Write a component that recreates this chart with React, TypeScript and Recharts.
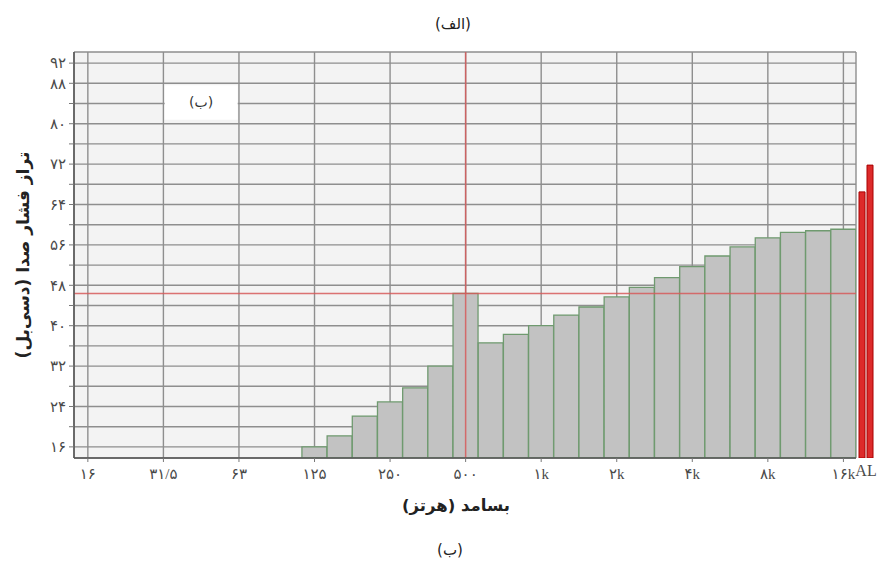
import React from "react";
import {
  Bar,
  BarChart,
  CartesianGrid,
  ComposedChart,
  ReferenceArea,
  ReferenceLine,
  XAxis,
  YAxis,
} from "recharts";

// 1/3-octave band centres (Hz)
const BANDS_HZ = [
  16, 20, 25, 31.5, 40, 50, 63, 80, 100, 125, 160, 200, 250, 315, 400, 500, 630, 800,
  1000, 1250, 1600, 2000, 2500, 3150, 4000, 5000, 6300, 8000, 10000, 12500, 16000,
];
// band sound pressure levels (dB), nothing measured below 125 Hz
const LEVELS_DB = [
  null, null, null, null, null, null, null, null, null,
  16, 18.2, 22.1, 24.9, 27.7, 32.0, 46.4, 36.6, 38.3,
  40.0, 42.1, 43.7, 45.7, 47.6, 49.5, 51.7, 53.8, 55.6,
  57.4, 58.5, 58.8, 59.1,
];
const OCTAVE_HZ = [16, 31.5, 63, 125, 250, 500, 1000, 2000, 4000, 8000, 16000];
const OCTAVE_LABELS = ["۱۶", "۳۱/۵", "۶۳", "۱۲۵", "۲۵۰", "۵۰۰", "۱k", "۲k", "۴k", "۸k", "۱۶k"];
const Y_TICKS = [16, 20, 24, 28, 32, 36, 40, 44, 48, 52, 56, 60, 64, 68, 72, 76, 80, 84, 88, 92];
const Y_LABELED = [16, 24, 32, 40, 48, 56, 64, 72, 80, 88, 92];
const AL_LEVELS = [66.5, 71.8];
const MARKER_HZ = 500;

const W = 883;
const H = 563;
const Y_DOMAIN: [number, number] = [13.8, 94.2];
const MARGIN_TOP = 52;
const MARGIN_BOTTOM = 45;
const X_AXIS_H = 60;

const FA_DIGITS = "۰۱۲۳۴۵۶۷۸۹";
const toFa = (v: number | string) => String(v).replace(/\d/g, (d) => FA_DIGITS[+d]);

const data = BANDS_HZ.map((hz, i) => ({ idx: i, hz, level: LEVELS_DB[i] }));
const alData = [{ name: "AL", a: AL_LEVELS[0], b: AL_LEVELS[1] }];
const octaveIdx = OCTAVE_HZ.map((hz) => BANDS_HZ.indexOf(hz));
const markerIdx = BANDS_HZ.indexOf(MARKER_HZ);

const tickFont = {
  fontFamily: "'Liberation Serif', 'DejaVu Sans', serif",
  fontSize: 15,
  fill: "#4a4a4a",
};
const titleFont = "'DejaVu Sans', sans-serif";

export default function App() {
  return (
    <div
      style={{ position: "absolute", left: 0, top: 0, width: W, height: H, background: "#fff" }}
    >
      <div
        dir="rtl"
        style={{
          position: "absolute", top: 15, left: 0, width: 906, textAlign: "center",
          fontFamily: titleFont, fontSize: 15, color: "#222",
        }}
      >
        (الف)
      </div>

      <div style={{ position: "absolute", left: 0, top: 0 }}>
        <ComposedChart
          width={W}
          height={H}
          data={data}
          margin={{ top: MARGIN_TOP, right: 27, bottom: MARGIN_BOTTOM, left: 0 }}
        >
          <CartesianGrid fill="#f3f3f3" stroke="#8e8e8e" strokeWidth={1.4} />
          <XAxis
            type="number"
            dataKey="idx"
            domain={[-0.55, 30.5]}
            allowDataOverflow
            ticks={octaveIdx}
            interval={0}
            height={X_AXIS_H}
            tickSize={4}
            tickMargin={6}
            tick={tickFont}
            tickLine={{ stroke: "#777" }}
            axisLine={{ stroke: "#555", strokeWidth: 1.5 }}
            tickFormatter={(i: number) => OCTAVE_LABELS[octaveIdx.indexOf(i)] ?? ""}
            label={{
              content: ({ viewBox }: any) =>
                viewBox ? (
                  <text
                    x={viewBox.x + viewBox.width / 2 - 9}
                    y={viewBox.y + 47}
                    textAnchor="middle"
                    dominantBaseline="central"
                    style={{ direction: "rtl", fontFamily: titleFont, fontWeight: 700, fontSize: 16.5, fill: "#222" }}
                  >
                    بسامد (هرتز)
                  </text>
                ) : null,
            }}
          />
          <YAxis
            type="number"
            domain={Y_DOMAIN}
            allowDataOverflow
            ticks={Y_TICKS}
            interval={0}
            width={74}
            tickSize={5}
            tickMargin={3}
            tick={tickFont}
            tickLine={{ stroke: "#777" }}
            axisLine={{ stroke: "#555", strokeWidth: 1.5 }}
            tickFormatter={(v: number) => (Y_LABELED.includes(v) ? toFa(v) : "")}
            label={{
              content: ({ viewBox }: any) => {
                if (!viewBox) return null;
                const cx = viewBox.x + 23;
                const cy = viewBox.y + viewBox.height / 2;
                return (
                  <text
                    x={cx}
                    y={cy}
                    transform={`rotate(-90 ${cx} ${cy})`}
                    textAnchor="middle"
                    dominantBaseline="central"
                    style={{ direction: "rtl", fontFamily: titleFont, fontWeight: 700, fontSize: 17, fill: "#222" }}
                  >
                    تراز فشار صدا (دسی‌بل)
                  </text>
                );
              },
            }}
          />
          <ReferenceArea
            x1={3.05}
            x2={5.95}
            y1={80.8}
            y2={87.6}
            fill="#ffffff"
            fillOpacity={1}
            stroke="none"
            label={{ value: "(ب)", position: "center", fill: "#333", fontSize: 14, fontFamily: titleFont }}
          />
          <Bar
            dataKey="level"
            barSize={25}
            fill="#c2c2c2"
            stroke="#6f9a6f"
            strokeWidth={1.3}
            isAnimationActive={false}
          />
          <ReferenceLine x={markerIdx} stroke="#d65a5a" strokeWidth={1.5} strokeOpacity={0.85} />
          <ReferenceLine y={LEVELS_DB[markerIdx] as number} stroke="#d65a5a" strokeWidth={1.5} strokeOpacity={0.85} />
        </ComposedChart>
      </div>

      {/* A-weighted / linear totals, outside the band grid */}
      <div style={{ position: "absolute", left: 0, top: 0 }}>
        <BarChart
          width={W}
          height={H}
          data={alData}
          barGap={2}
          margin={{ top: MARGIN_TOP, right: 7, bottom: MARGIN_BOTTOM, left: 856 }}
        >
          <XAxis
            dataKey="name"
            height={X_AXIS_H}
            axisLine={false}
            tickLine={false}
            tickMargin={1}
            tick={{ ...tickFont, fontFamily: "'Liberation Serif', serif", fontSize: 16 }}
          />
          <YAxis hide domain={Y_DOMAIN} allowDataOverflow />
          <Bar dataKey="a" barSize={6} fill="#dd2a2a" stroke="#a80000" strokeWidth={1} isAnimationActive={false} />
          <Bar dataKey="b" barSize={6} fill="#dd2a2a" stroke="#a80000" strokeWidth={1} isAnimationActive={false} />
        </BarChart>
      </div>

      <div
        dir="rtl"
        style={{
          position: "absolute", top: 541, left: 0, width: 900, textAlign: "center",
          fontFamily: titleFont, fontSize: 15, color: "#222",
        }}
      >
        (ب)
      </div>
    </div>
  );
}
